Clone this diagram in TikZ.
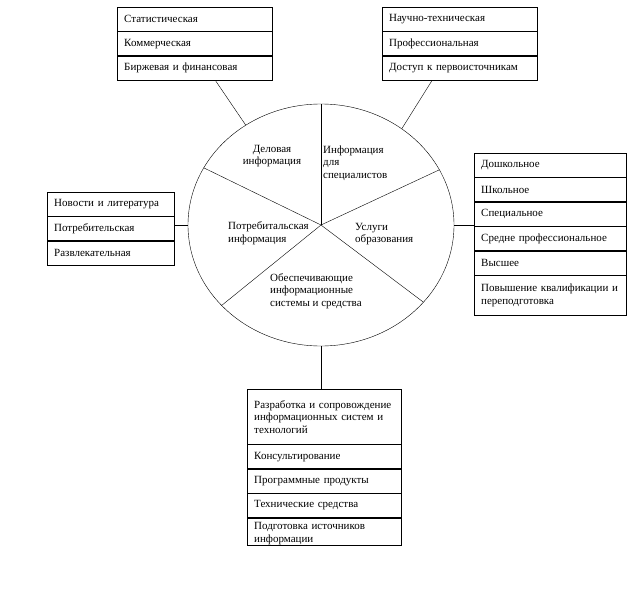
\documentclass[tikz,border=0pt]{standalone}
\usepackage{fontspec}
\setmainfont{Liberation Serif}
\usetikzlibrary{shapes.geometric, positioning, calc}

\begin{document}
\begin{tikzpicture}[x=1pt, y=1pt,
  item/.style={rectangle, draw, anchor=north west, align=left, text width=#1, minimum height=24pt, inner xsep=7pt, inner ysep=2.5pt, font=\fontsize{11}{12.5}\selectfont},
  sector/.style={inner sep=0pt, font=\fontsize{11}{12.5}\selectfont},
  link/.style={thin}
]
  \useasboundingbox (0,0) rectangle (642,-591);

  % Wheel
  \node[ellipse, draw, minimum width=266pt, minimum height=242pt, inner sep=0pt] (wheel) at (321,-225) {};
  \foreach \a in {90,154,219,323,25}
    \draw[link] (wheel.center) -- (wheel.\a);

  % Sector labels
  \node[sector, align=center] (biztxt) at (272,-156) {Деловая\\информация};
  \node[sector, align=left, anchor=west] (spectxt) at (323,-163) {Информация\\для\\специалистов};
  \node[sector, align=left, anchor=west] (constxt) at (228,-233) {Потребитальская\\информация};
  \node[sector, align=left, anchor=west] (edutxt) at (355,-234) {Услуги\\образования};
  \node[sector, align=left, anchor=west] (systxt) at (270,-291) {Обеспечивающие\\информационные\\системы и средства};

  % Business information
  \node[item=141pt] (biz1) at (117,-7) {Статистическая};
  \node[item=141pt, below=0pt of biz1] (biz2) {Коммерческая};
  \node[item=141pt, below=0pt of biz2] (biz3) {Биржевая и финансовая};

  % Information for specialists
  \node[item=141pt] (spec1) at (382,-7) {Научно-техническая};
  \node[item=141pt, below=0pt of spec1] (spec2) {Профессиональная};
  \node[item=141pt, below=0pt of spec2] (spec3) {Доступ к первоисточникам};

  % Consumer information
  \node[item=113pt] (cons1) at (47,-192) {Новости и литература};
  \node[item=113pt, below=0pt of cons1] (cons2) {Потребительская};
  \node[item=113pt, below=0pt of cons2] (cons3) {Развлекательная};

  % Education
  \node[item=138pt] (edu1) at (474,-153) {Дошкольное};
  \node[item=138pt, below=0pt of edu1] (edu2) {Школьное};
  \node[item=138pt, below=0pt of edu2] (edu3) {Специальное};
  \node[item=138pt, below=0pt of edu3] (edu4) {Средне профессиональное};
  \node[item=138pt, below=0pt of edu4] (edu5) {Высшее};
  \node[item=138pt, below=0pt of edu5, minimum height=40pt] (edu6) {Повышение квалификации и\\переподготовка};

  % Supporting systems
  \node[item=140pt, minimum height=55pt] (sys1) at (247,-389) {Разработка и сопровождение\\информационных систем и\\технологий};
  \node[item=140pt, below=0pt of sys1] (sys2) {Консультирование};
  \node[item=140pt, below=0pt of sys2] (sys3) {Программные продукты};
  \node[item=140pt, below=0pt of sys3] (sys4) {Технические средства};
  \node[item=140pt, below=0pt of sys4, minimum height=27pt, text depth=10pt] (sys5) {Подготовка источников\\информации};

  % Connectors
  \draw[link] ($(biz3.south)+(20.5,0)$) -- (wheel.127);
  \draw[link] ($(spec3.south)+(-27.5,0)$) -- (wheel.50);
  \draw[link] (wheel.west) -- (wheel.west -| cons2.east);
  \draw[link] (wheel.east) -- (wheel.east -| edu4.west);
  \draw[link] (wheel.south) -- (wheel.south |- sys1.north);
\end{tikzpicture}
\end{document}
